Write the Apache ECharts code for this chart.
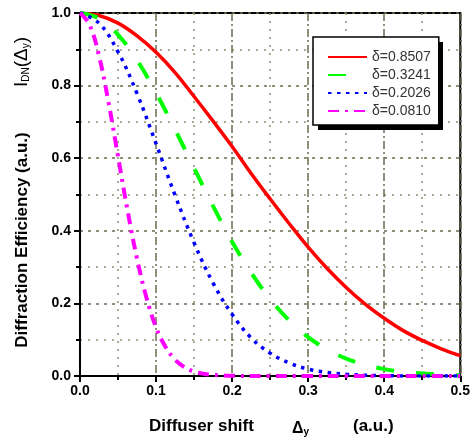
<!DOCTYPE html>
<html>
<head>
<meta charset="utf-8">
<script src="https://cdn.jsdelivr.net/npm/echarts@6/dist/echarts.min.js"></script>
<style>
  html, body { margin: 0; padding: 0; background: #fff; }
  #main { width: 473px; height: 443px; }
</style>
</head>
<body>
<div id="main"></div>
<script>
// shift values (a.u.)
var shiftX = [0, 0.025, 0.05, 0.075, 0.1, 0.125, 0.15, 0.175, 0.2, 0.225, 0.25,
              0.275, 0.3, 0.325, 0.35, 0.375, 0.4, 0.425, 0.45, 0.475, 0.5];
var red = [1.0, 0.993, 0.972, 0.937, 0.892, 0.836, 0.770, 0.702, 0.632, 0.558, 0.488,
           0.420, 0.355, 0.296, 0.244, 0.198, 0.159, 0.125, 0.098, 0.075, 0.056];
var green = [1.0, 0.985, 0.940, 0.870, 0.780, 0.679, 0.573, 0.468, 0.370, 0.285, 0.212,
             0.153, 0.107, 0.073, 0.048, 0.031, 0.019, 0.011, 0.007, 0.004, 0.002];
var blue = [1.0, 0.972, 0.893, 0.778, 0.640, 0.498, 0.367, 0.256, 0.170, 0.105, 0.063,
            0.036, 0.019, 0.010, 0.005, 0.002, 0.001, 0, 0, 0, 0];
var magentaX = [0, 0.0125, 0.025, 0.0375, 0.05, 0.0625, 0.075, 0.0875, 0.1, 0.1125, 0.125,
                0.1375, 0.15, 0.1625, 0.175, 0.2, 0.25, 0.3, 0.35, 0.4, 0.45, 0.5];
var magenta = [1.0, 0.968, 0.882, 0.754, 0.605, 0.456, 0.323, 0.215, 0.134, 0.080, 0.045,
               0.024, 0.012, 0.006, 0.003, 0.0005, 0, 0, 0, 0, 0, 0];
var names = ['δ=0.8507', 'δ=0.3241', 'δ=0.2026', 'δ=0.0810'];

function pairs(xs, ys) {
    return xs.map(function (x, i) { return [x, ys[i]]; });
}

var myChart = echarts.init(document.getElementById('main'));
var font = 'Liberation Sans, Arial, sans-serif';
var gridCol = '#6b6b50';

var option = {
    backgroundColor: '#fff',
    animation: false,
    grid: {
        left: 80, top: 13, right: 9, bottom: 67,
        show: true, borderColor: '#000', borderWidth: 2
    },
    legend: {
        orient: 'vertical',
        left: 313, top: 37, z: 5,
        padding: [13, 8, 7, 14],
        itemWidth: 39, itemHeight: 14, itemGap: 4,
        backgroundColor: '#fff',
        borderColor: '#000', borderWidth: 1.5,
        itemStyle: { opacity: 0 },
        textStyle: { fontFamily: font, fontSize: 14, color: '#333' },
        data: names
    },
    xAxis: {
        type: 'value', min: 0, max: 0.5, interval: 0.1,
        axisLine: { lineStyle: { color: '#000', width: 2 } },
        axisTick: { length: 6, lineStyle: { color: '#000', width: 2 } },
        minorTick: { show: true, splitNumber: 2, length: 4, lineStyle: { color: '#000', width: 2 } },
        axisLabel: {
            margin: 8, fontFamily: font, fontSize: 14, fontWeight: 'bold', color: '#000',
            formatter: function (v) { return v.toFixed(1); }
        },
        splitLine: { show: true, lineStyle: { color: gridCol, width: 1.5, type: [8, 3, 2, 3] } },
        minorSplitLine: { show: true, lineStyle: { color: '#8f8f70', width: 1.5, type: [2, 6] } }
    },
    yAxis: {
        type: 'value', min: 0, max: 1, interval: 0.2,
        axisLine: { lineStyle: { color: '#000', width: 2 } },
        axisTick: { length: 6, lineStyle: { color: '#000', width: 2 } },
        minorTick: { show: true, splitNumber: 2, length: 4, lineStyle: { color: '#000', width: 2 } },
        axisLabel: {
            margin: 9, fontFamily: font, fontSize: 14, fontWeight: 'bold', color: '#000',
            formatter: function (v) { return v.toFixed(1); }
        },
        splitLine: { show: true, lineStyle: { color: gridCol, width: 1.5, type: [3, 5] } },
        minorSplitLine: { show: true, lineStyle: { color: '#8f8f70', width: 1.5, type: [2, 6] } }
    },
    graphic: [
        {
            // legend drop shadow
            type: 'rect', z: 4,
            shape: { x: 318, y: 42, width: 125, height: 88 },
            style: { fill: '#000' }
        },
        {
            type: 'text', x: 22, y: 240, rotation: Math.PI / 2,
            style: {
                text: 'Diffraction Efficiency (a.u.)',
                font: 'bold 17px ' + font, fill: '#000',
                align: 'center', verticalAlign: 'middle'
            }
        },
        {
            type: 'text', x: 21, y: 62, rotation: Math.PI / 2,
            style: {
                text: '{a|I}{s|DN}{a|(Δ}{s|y}{a|)}',
                align: 'center', verticalAlign: 'middle',
                rich: {
                    a: { fontFamily: font, fontSize: 19, fill: '#000', verticalAlign: 'bottom', lineHeight: 20 },
                    s: { fontFamily: font, fontSize: 10, fill: '#000', verticalAlign: 'bottom', lineHeight: 14 }
                }
            }
        },
        {
            type: 'text', x: 149, y: 426,
            style: {
                text: 'Diffuser shift',
                font: 'bold 17px ' + font, fill: '#000',
                align: 'left', verticalAlign: 'middle'
            }
        },
        {
            type: 'text', x: 292, y: 428,
            style: {
                text: '{a|Δ}{s|y}',
                align: 'left', verticalAlign: 'middle',
                rich: {
                    a: { fontFamily: font, fontSize: 16, fontWeight: 'bold', fill: '#000', verticalAlign: 'bottom', lineHeight: 18 },
                    s: { fontFamily: font, fontSize: 10, fontWeight: 'bold', fill: '#000', verticalAlign: 'bottom', lineHeight: 10 }
                }
            }
        },
        {
            type: 'text', x: 353, y: 426,
            style: {
                text: '(a.u.)',
                font: 'bold 17px ' + font, fill: '#000',
                align: 'left', verticalAlign: 'middle'
            }
        }
    ],
    series: [
        {
            name: names[0], type: 'line', symbol: 'none', smooth: 0.4,
            lineStyle: { color: '#ff0000', width: 3.5 },
            itemStyle: { color: '#ff0000' },
            data: pairs(shiftX, red)
        },
        {
            name: names[1], type: 'line', symbol: 'none', smooth: 0.4,
            lineStyle: { color: '#00ff00', width: 4, type: [18, 22] },
            itemStyle: { color: '#00ff00' },
            data: pairs(shiftX, green)
        },
        {
            name: names[2], type: 'line', symbol: 'none', smooth: 0.4,
            lineStyle: { color: '#0000ff', width: 3.5, type: [3.5, 5.5] },
            itemStyle: { color: '#0000ff' },
            data: pairs(shiftX, blue)
        },
        {
            name: names[3], type: 'line', symbol: 'none', smooth: 0.4,
            lineStyle: { color: '#ff00ff', width: 4, type: [11, 6, 3, 6] },
            itemStyle: { color: '#ff00ff' },
            data: pairs(magentaX, magenta)
        }
    ]
};

myChart.setOption(option);
</script>
</body>
</html>
